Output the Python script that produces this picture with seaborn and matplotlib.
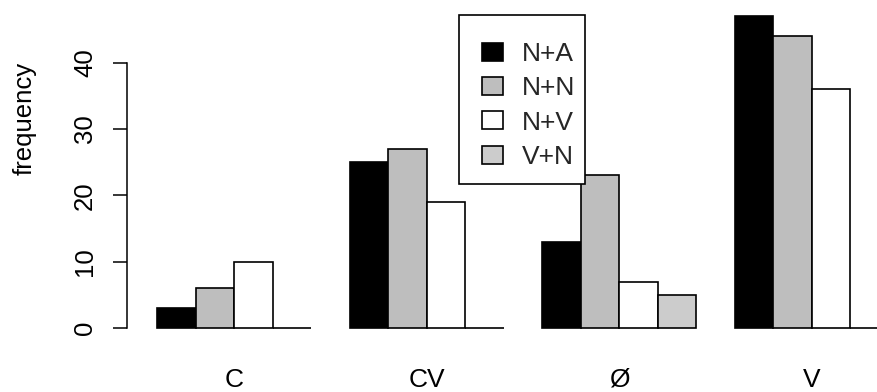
import matplotlib
matplotlib.use("Agg")
import matplotlib.pyplot as plt
from matplotlib.patches import Rectangle
import seaborn as sns
import pandas as pd

# Frequencies of compound patterns per category
categories = ["C", "CV", "Ø", "V"]
combos = ["N+A", "N+N", "N+V", "V+N"]
freq_NA = [3, 25, 13, 47]
freq_NN = [6, 27, 23, 44]
freq_NV = [10, 19, 7, 36]
freq_VN = [0, 0, 5, 0]
fills = ["#000000", "#BEBEBE", "#FFFFFF", "#CCCCCC"]

rows = []
for combo, vals in zip(combos, [freq_NA, freq_NN, freq_NV, freq_VN]):
    for cat, v in zip(categories, vals):
        rows.append({"category": cat, "combo": combo, "frequency": v})
df = pd.DataFrame(rows)

sns.set_style("white")
plt.rcParams["font.family"] = ["Liberation Sans", "DejaVu Sans"]

W, H = 878, 392
fig = plt.figure(figsize=(W / 100, H / 100), dpi=100)
ax = fig.add_axes([0, 52 / H, 1, 340 / H])

sns.barplot(
    data=df, x="category", y="frequency", hue="combo",
    order=categories, hue_order=combos,
    palette=dict(zip(combos, fills)), saturation=1,
    edgecolor="black", linewidth=1.2, errorbar=None,
    width=0.8, gap=0, ax=ax,
)

# base-R style layout: 6.6325 px per frequency unit, 192.5 px per group
ax.set_xlim(-1.217, 3.344)
ax.set_ylim(-1.809, 49.45)

for side in ["top", "right", "bottom"]:
    ax.spines[side].set_visible(False)
ax.spines["left"].set_position(("data", -0.555))
ax.spines["left"].set_bounds(0, 40)
ax.spines["left"].set_color("black")
ax.spines["left"].set_linewidth(1.1)

ax.set_yticks([0, 10, 20, 30, 40])
ax.tick_params(axis="y", left=True, length=10, width=1.1, direction="out",
               pad=12, labelsize=18.5, labelrotation=90, colors="black")
for lbl in ax.get_yticklabels():
    lbl.set_va("center")

ax.tick_params(axis="x", bottom=False, length=0, pad=20, labelsize=19,
               colors="black")

ax.set_xlabel("")
ax.set_ylabel("frequency", fontsize=18.5, color="black")
ax.yaxis.set_label_coords(37 / W, 0.653)

# legend entries without their own frame; the box is drawn separately
sns.move_legend(
    ax, "upper left",
    bbox_to_anchor=(482.5 / W, 1 - 42 / H), bbox_transform=fig.transFigure,
    title=None, frameon=False, fontsize=19,
    handlelength=0.76, handleheight=0.68,
    handletextpad=0.72, borderpad=0, labelspacing=0.39, borderaxespad=0,
)
leg = ax.get_legend()
leg.set_zorder(6)
for h in leg.legend_handles:
    h.set_edgecolor("black")
    h.set_linewidth(1.2)

# white legend box with a thin black border, drawn over the bars
box_l, box_t, box_r, box_b = 459.5, 15.5, 585.3, 184.3
ax.add_artist(Rectangle(
    (box_l / W, 1 - box_b / H), (box_r - box_l) / W, (box_b - box_t) / H,
    transform=fig.transFigure, facecolor="white", edgecolor="black",
    linewidth=1.2, zorder=5,
))

fig.savefig("out.png", dpi=100)
